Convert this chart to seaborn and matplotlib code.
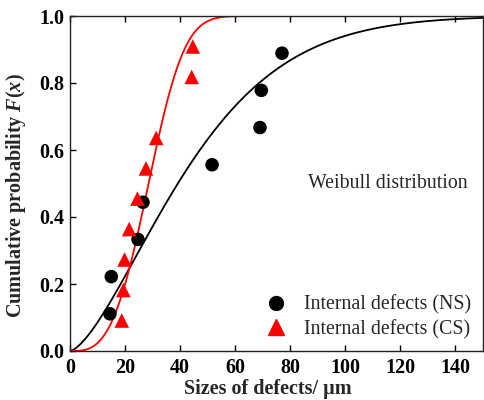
import numpy as np
import pandas as pd
import matplotlib
matplotlib.use("Agg")
import matplotlib.pyplot as plt
import seaborn as sns
from matplotlib.lines import Line2D

# ---- data ----
ns_size = [14.5, 15.0, 24.7, 26.5, 51.6, 69.0, 69.5, 77.0]
ns_prob = [0.111, 0.222, 0.333, 0.444, 0.556, 0.667, 0.778, 0.889]
cs_size = [18.8, 19.4, 19.8, 21.5, 24.5, 27.6, 31.3, 44.2, 44.6]
cs_prob = [0.091, 0.182, 0.273, 0.364, 0.455, 0.545, 0.636, 0.818, 0.909]

# Weibull fit parameters (shape k, scale lambda)
ns_shape, ns_scale = 1.5, 50.0
cs_shape, cs_scale = 3.2, 32.0

x_ticks = [0, 20, 40, 60, 80, 100, 120, 140]
y_ticks = [0.0, 0.2, 0.4, 0.6, 0.8, 1.0]
labels = ["Internal defects (NS)", "Internal defects (CS)"]

sns.set_theme(style="ticks")
plt.rcParams['font.family'] = ['Liberation Serif', 'DejaVu Serif']
plt.rcParams['mathtext.fontset'] = 'custom'
plt.rcParams['mathtext.it'] = 'Liberation Serif:italic:bold'
plt.rcParams['mathtext.rm'] = 'Liberation Serif:bold'

fig = plt.figure(figsize=(4.85, 4.0), dpi=100)
ax = fig.add_axes([70/485, 49/400, 413/485, 335/400])

xg = np.linspace(0, 150, 600)
ns_curve = pd.DataFrame({"x": xg, "F": 1 - np.exp(-(xg / ns_scale) ** ns_shape)})
cs_curve = pd.DataFrame({"x": xg, "F": 1 - np.exp(-(xg / cs_scale) ** cs_shape)})

sns.lineplot(data=ns_curve, x="x", y="F", color="black", lw=1.3, ax=ax)
sns.lineplot(data=cs_curve, x="x", y="F", color="#ff0000", lw=1.3, ax=ax)

ns_df = pd.DataFrame({"x": ns_size, "F": ns_prob})
cs_df = pd.DataFrame({"x": cs_size, "F": cs_prob})
sns.scatterplot(data=ns_df, x="x", y="F", color="black", marker="o", s=95,
                edgecolor="none", ax=ax, zorder=5)
sns.scatterplot(data=cs_df, x="x", y="F", color="#ff0000", marker="^", s=110,
                edgecolor="none", ax=ax, zorder=5)

ax.set_xlim(0, 150)
ax.set_ylim(0, 1.0)
ax.set_xticks(x_ticks)
ax.set_yticks(y_ticks)
ax.set_yticklabels([f"{v:.1f}" for v in y_ticks])
ax.tick_params(direction="in", length=4, width=1, labelsize=14.5, top=True, right=False,
               colors="black")
ax.tick_params(axis="x", pad=5)
ax.tick_params(axis="y", pad=4)
for lab in ax.get_xticklabels() + ax.get_yticklabels():
    lab.set_fontweight("bold")
for sp in ax.spines.values():
    sp.set_visible(True)
    sp.set_linewidth(1.0)
    sp.set_color("#222222")

ax.set_xlabel("Sizes of defects/ \u00b5m", fontsize=14.5, fontweight="bold")
ax.set_ylabel("Cumulative probability $F$($x$)", fontsize=14.5, fontweight="bold")
ax.xaxis.set_label_coords(0.48, -0.083)
ax.yaxis.set_label_coords(-0.102, 0.463)

ax.text(0.576, 0.5, "Weibull distribution", transform=ax.transAxes, fontsize=14.3,
        va="center", ha="left")

handles = [Line2D([], [], ls="none", marker="o", color="black", markersize=10),
           Line2D([], [], ls="none", marker="^", color="#ff0000", markersize=11)]
ax.legend(handles, labels, loc="lower right", frameon=False, fontsize=14.3,
          handletextpad=0.4, borderaxespad=0.2, labelspacing=0.25,
          bbox_to_anchor=(1.0, 0.0))

fig.savefig("out.png", dpi=100)
